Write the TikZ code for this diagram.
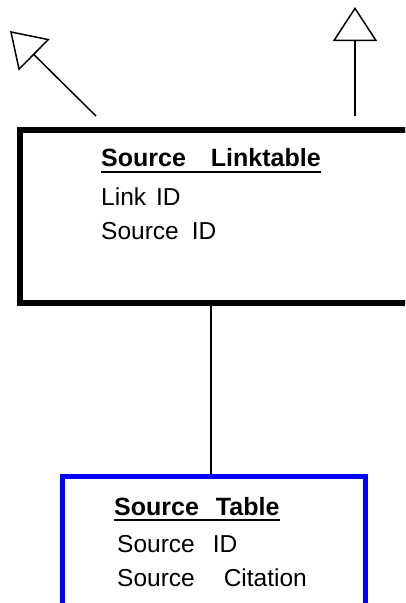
\documentclass[tikz,border=0pt]{standalone}
\usepackage{fontspec}
\setmainfont{Liberation Sans}
\usetikzlibrary{arrows.meta}
\tikzset{
	linkbox/.style={draw=black, line width=6pt, rectangle, inner sep=0pt, anchor=north west},
	sourcebox/.style={draw=blue, line width=5pt, rectangle, inner sep=0pt, anchor=north west},
	rowtext/.style={inner sep=0pt, anchor=base west, font=\fontsize{24.5}{28}\selectfont},
	titletext/.style={rowtext, font=\fontsize{25}{28}\selectfont\bfseries},
	titleline/.style={line width=2.5pt},
	relation/.style={line width=1.5pt},
	inherit/.style={line width=1.5pt, -{Triangle[open, length=34pt, width=44pt]}}
}
\begin{document}
\begin{tikzpicture}[x=1pt, y=-1pt]
	\useasboundingbox (0,0) rectangle (405,603);
	\clip (0,0) rectangle (405,603);
	% link table
	\node[linkbox, minimum width=403pt, minimum height=173pt] (linktable) at (17,127) {};
	\node[titletext] (linktitle) at (101,166) {Source\hspace{25pt}Linktable};
	\node[rowtext] (linkid) at (101,205) {Link\hspace{10pt}ID};
	\node[rowtext] (linksource) at (101,239) {Source\hspace{13pt}ID};
	\draw[titleline] ([yshift=-6pt]linktitle.base west) -- ([yshift=-6pt]linktitle.base east);
	% source table
	\node[sourcebox, minimum width=302.5pt, minimum height=160pt] (sourcetable) at (60,473.5) {};
	\node[titletext] (sourcetitle) at (114,515) {Source\hspace{17pt}Table};
	\node[rowtext] (sourceid) at (117,552) {Source\hspace{18pt}ID};
	\node[rowtext] (sourcecite) at (117,586) {Source\hspace{29pt}Citation};
	\draw[titleline] ([yshift=-5pt]sourcetitle.base west) -- ([yshift=-5pt]sourcetitle.base east);
	% relations
	\coordinate (linkstart) at (211,300);
	\coordinate (sourcestart) at (211,473.5);
	\draw[relation] (linkstart) -- (sourcestart);
	\coordinate (leftfoot) at (96,116);
	\coordinate (lefttip) at (10,31);
	\coordinate (rightfoot) at (355,116);
	\coordinate (righttip) at (355,7);
	\draw[inherit] (leftfoot) -- (lefttip);
	\draw[inherit] (rightfoot) -- (righttip);
\end{tikzpicture}
\end{document}
